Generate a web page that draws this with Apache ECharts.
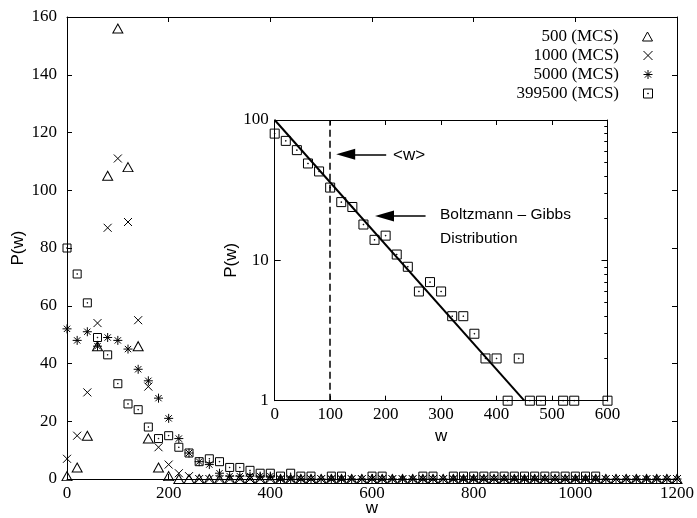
<!DOCTYPE html>
<html>
<head>
<meta charset="utf-8">
<script src="https://cdn.jsdelivr.net/npm/echarts@6/dist/echarts.min.js"></script>
<style>html,body{margin:0;padding:0;background:#fff;}#c{width:697px;height:518px;}</style>
</head>
<body>
<div id="c"></div>
<script>
// ---- data ----
const wValues = [0,20,40,60,80,100,120,140,160,180,200,220,240,260,280,300,320,340,360,380,
  400,420,440,460,480,500,520,540,560,580,600,620,640,660,680,700,720,740,760,780,
  800,820,840,860,880,900,920,940,960,980,1000,1020,1040,1060,1080,1100,1120,1140,1160,1180,1200];
const seriesNames = ['500 (MCS)', '1000 (MCS)', '5000 (MCS)', '399500 (MCS)'];
const p500 = [1,4,15,46,105,156,108,46,14,4,1,0,0,0,0,0,0,0,0,0,
  0,0,0,0,0,0,0,0,0,0,0,0,0,0,0,0,0,0,0,0,
  0,0,0,0,0,0,0,0,0,0,0,0,0,0,0,0,0,0,0,0,0];
const p1000 = [7,15,30,54,87,111,89,55,32,11,5,2,1,0,0,0,0,0,0,0,
  0,0,0,0,0,0,0,0,0,0,0,0,0,0,0,0,0,0,0,0,
  0,0,0,0,0,0,0,0,0,0,0,0,0,0,0,0,0,0,0,0,0];
const p5000 = [52,48,51,46,49,48,45,38,34,28,21,14,9,6,5,2,1,1,1,1,
  1,0,0,0,0,0,0,0,0,0,0,0,0,0,0,0,0,0,0,0,
  0,0,0,0,0,0,0,0,0,0,0,0,0,0,0,0,0,0,0,0,0];
const p399500 = [80,71,61,49,43,33,26,24,18,14,15,11,9,6,7,6,4,4,3,2,
  2,1,2,1,1,0,1,1,0,0,1,1,0,0,0,1,1,0,1,1,
  1,1,1,1,1,1,1,1,1,1,1,1,1,0,0,0,0,0,0,0,0];
// inset: Boltzmann-Gibbs line end points and mean <w>
const bgW = [0, 450];
const bgP = [100, 1];
const meanW = 100;
const insetYMajor = [1, 10, 100];
const insetYMinor = [2,3,4,5,6,7,8,9,20,30,40,50,60,70,80,90];

// ---- styles ----
const SERIF = 'Liberation Serif';
const SANS = 'Liberation Sans';
const sym = {
  tri: 'path://M5,0L10,9L0,9Z',
  cross: 'path://M0,0L8,8M8,0L0,8',
  star: 'path://M4,0V8M0,4H8M1.2,1.2L6.8,6.8M6.8,1.2L1.2,6.8',
  box: 'path://M0,0H8V8H0ZM3.7,3.7H4.3V4.3H3.7Z'
};
const mk = (arr, keepZero) => wValues.map((w, i) => [w, arr[i]]).filter(d => keepZero || d[1] > 0);
const ist = {color: 'none', borderColor: '#000', borderWidth: 1, opacity: 1};
const fmt = v => String(v);

const tickIn = (len) => ({show: true, inside: true, length: len, lineStyle: {color: '#000', width: 1}});
const line = {show: true, onZero: false, lineStyle: {color: '#000', width: 1}};
const noLine = {show: false, onZero: false};

const chart = echarts.init(document.getElementById('c'), null, {renderer: 'canvas'});
const option = {
  animation: false,
  backgroundColor: '#fff',
  grid: [
    {left: 67, right: 20, top: 17, bottom: 39, show: false, outerBoundsMode: 'none', containLabel: false},
    {left: 274.7, width: 332.8, top: 120, height: 280.7, show: true, backgroundColor: '#fff', borderWidth: 0,
      outerBoundsMode: 'none', containLabel: false}
  ],
  legend: seriesNames.map((n, i) => ({
    data: [n], orient: 'vertical', right: 42, top: 28 + i * 19, align: 'right',
    itemWidth: 48, itemHeight: 9, padding: 0, selectedMode: false,
    itemStyle: {color: 'none', borderColor: '#000', borderWidth: 1},
    textStyle: {fontFamily: SERIF, fontSize: 17, color: '#000'}
  })),
  xAxis: [
    {gridIndex: 0, type: 'value', min: 0, max: 1200, interval: 200, axisLine: line, axisTick: tickIn(5),
      splitLine: {show: false},
      axisLabel: {fontFamily: SERIF, fontSize: 17, color: '#000', margin: 6, formatter: fmt},
      name: 'w', nameLocation: 'middle', nameGap: 21, nameMoveOverlap: false,
      nameTextStyle: {fontFamily: SANS, fontSize: 17, color: '#000'}},
    {gridIndex: 0, type: 'value', position: 'top', min: 0, max: 1200, interval: 200, axisLine: line, axisTick: tickIn(5),
      splitLine: {show: false}, axisLabel: {show: false}},
    {gridIndex: 1, type: 'value', min: 0, max: 600, interval: 100, axisLine: line, axisTick: tickIn(5),
      splitLine: {show: false},
      axisLabel: {fontFamily: SERIF, fontSize: 17, color: '#000', margin: 5, formatter: fmt},
      name: 'w', nameLocation: 'middle', nameGap: 27, nameMoveOverlap: false,
      nameTextStyle: {fontFamily: SANS, fontSize: 17, color: '#000'}},
    {gridIndex: 1, type: 'value', position: 'top', min: 0, max: 600, interval: 100, axisLine: line, axisTick: tickIn(5),
      splitLine: {show: false}, axisLabel: {show: false}}
  ],
  yAxis: [
    {gridIndex: 0, type: 'value', min: 0, max: 160, interval: 20, axisLine: line, axisTick: tickIn(5),
      splitLine: {show: false},
      axisLabel: {fontFamily: SERIF, fontSize: 17, color: '#000', margin: 10, formatter: fmt},
      name: 'P(w)', nameLocation: 'middle', nameRotate: 90, nameGap: 40, nameMoveOverlap: false,
      nameTextStyle: {fontFamily: SANS, fontSize: 17, color: '#000'}},
    {gridIndex: 0, type: 'value', position: 'right', min: 0, max: 160, interval: 20, axisLine: line, axisTick: tickIn(5),
      splitLine: {show: false}, axisLabel: {show: false}},
    {gridIndex: 1, type: 'log', logBase: 10, min: 1, max: 100, axisLine: line,
      axisTick: Object.assign(tickIn(6), {customValues: insetYMajor}),
      splitLine: {show: false},
      axisLabel: {fontFamily: SERIF, fontSize: 17, color: '#000', margin: 6, customValues: insetYMajor, formatter: fmt},
      name: 'P(w)', nameLocation: 'middle', nameRotate: 90, nameGap: 35, nameMoveOverlap: false,
      nameTextStyle: {fontFamily: SANS, fontSize: 17, color: '#000'}},
    {gridIndex: 1, type: 'log', logBase: 10, min: 1, max: 100, axisLine: noLine,
      axisTick: Object.assign(tickIn(3), {customValues: insetYMinor}),
      splitLine: {show: false}, axisLabel: {show: false}},
    {gridIndex: 1, type: 'log', logBase: 10, position: 'right', min: 1, max: 100, axisLine: line,
      axisTick: Object.assign(tickIn(6), {customValues: insetYMajor}),
      splitLine: {show: false}, axisLabel: {show: false}},
    {gridIndex: 1, type: 'log', logBase: 10, position: 'right', min: 1, max: 100, axisLine: noLine,
      axisTick: Object.assign(tickIn(3), {customValues: insetYMinor}),
      splitLine: {show: false}, axisLabel: {show: false}}
  ],
  series: [
    {name: seriesNames[0], type: 'scatter', xAxisIndex: 0, yAxisIndex: 0, symbol: sym.tri, symbolSize: [10, 9],
      itemStyle: ist, data: mk(p500, true), clip: false},
    {name: seriesNames[1], type: 'scatter', xAxisIndex: 0, yAxisIndex: 0, symbol: sym.cross, symbolSize: 8,
      itemStyle: ist, data: mk(p1000, true), clip: false},
    {name: seriesNames[2], type: 'scatter', xAxisIndex: 0, yAxisIndex: 0, symbol: sym.star, symbolSize: 9,
      itemStyle: ist, data: mk(p5000, true), clip: false},
    {name: seriesNames[3], type: 'scatter', xAxisIndex: 0, yAxisIndex: 0, symbol: sym.box, symbolSize: 8,
      itemStyle: ist, data: mk(p399500, false), clip: false},
    {name: 'inset', type: 'scatter', xAxisIndex: 2, yAxisIndex: 2, symbol: sym.box, symbolSize: 9,
      itemStyle: ist, data: mk(p399500, false).filter(d => d[0] <= 600), clip: false, z: 5},
    {name: 'bg', type: 'line', xAxisIndex: 2, yAxisIndex: 2, showSymbol: false, symbol: 'none',
      lineStyle: {color: '#000', width: 2}, data: bgW.map((w, i) => [w, bgP[i]]), z: 4,
      markLine: {
        silent: true, animation: false,
        label: {show: false},
        data: [
          [{coord: [meanW, 1], symbol: 'none'}, {coord: [meanW, 100], symbol: 'none',
            lineStyle: {type: [7, 4], width: 1.5, color: '#000'}}],
          [{coord: [201, 57], symbol: 'none'}, {coord: [128, 57], symbol: 'triangle', symbolSize: [11, 19],
            lineStyle: {type: 'solid', width: 1.5, color: '#000'}}],
          [{coord: [272, 20.7], symbol: 'none'}, {coord: [198, 20.7], symbol: 'triangle', symbolSize: [11, 19],
            lineStyle: {type: 'solid', width: 1.5, color: '#000'}}]
        ],
        lineStyle: {color: '#000', width: 1.5, type: 'solid'},
        itemStyle: {color: '#000'}
      }}
  ],
  graphic: [
    {type: 'text', left: 393, top: 147, style: {text: '<w>', font: '17px "Liberation Sans"', fill: '#000'}},
    {type: 'text', left: 440, top: 207, style: {text: 'Boltzmann – Gibbs', font: '15.5px "Liberation Sans"', fill: '#000'}},
    {type: 'text', left: 440, top: 231, style: {text: 'Distribution', font: '15.5px "Liberation Sans"', fill: '#000'}}
  ]
};
chart.setOption(option);
</script>
</body>
</html>
